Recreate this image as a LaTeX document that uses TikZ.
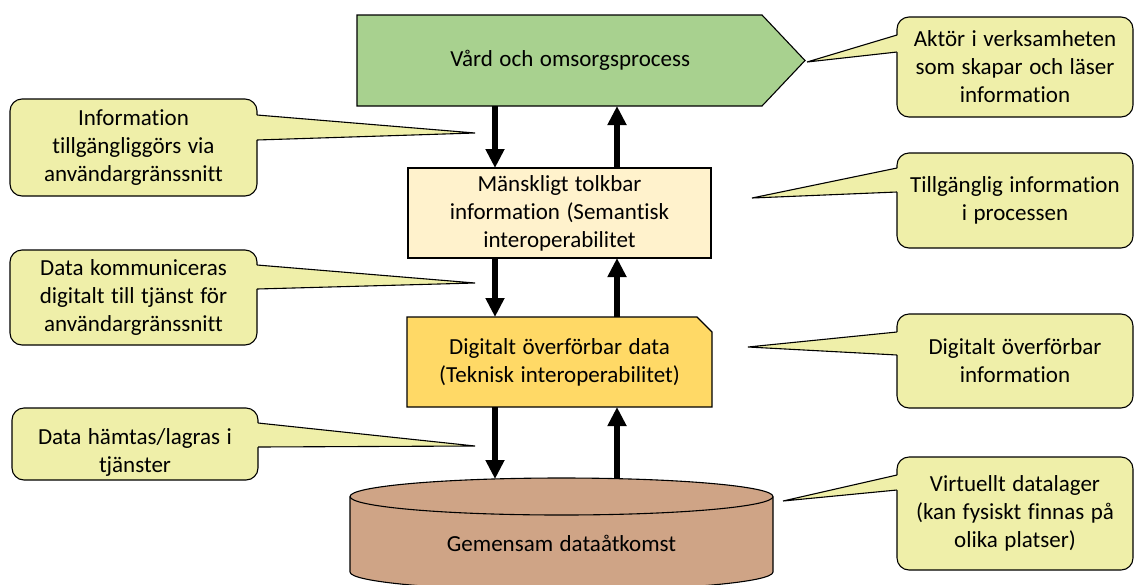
\documentclass[tikz,border=0pt]{standalone}
\usepackage{fontspec}
\setmainfont[WordSpace={1.25},Ligatures={NoCommon}]{Carlito}
\usetikzlibrary{arrows.meta,calc,backgrounds}
\definecolor{callfill}{HTML}{EFEFA9}
\definecolor{procfill}{HTML}{A8D18F}
\definecolor{semfill}{HTML}{FFF2CC}
\definecolor{tekfill}{HTML}{FFD966}
\definecolor{cylfill}{HTML}{CFA486}

% pointer of a speech bubble: corner anchor, inward shift, two offsets down the edge, tip
\newcommand\calloutptr[5]{%
  \fill[callfill] ($(#1)+(#2,#3)$) -- (#5) -- ($(#1)+(#2,#4)$) -- cycle;
  \draw[callline] ($(#1)+(0,#3)$) -- (#5) -- ($(#1)+(0,#4)$);}

\begin{document}
\begin{tikzpicture}[x=1pt,y=-1pt,
  font=\fontsize{23}{28}\selectfont,
  box/.style={draw=black, line width=1.1pt, inner sep=0pt, outer sep=0pt, align=center},
  textonly/.style={inner sep=0pt, outer sep=0pt, align=center},
  callout/.style={box, fill=callfill, rounded corners=12pt},
  callline/.style={draw=black, line width=1.1pt, line join=miter},
  flow/.style={line width=6pt, -{Triangle[width=18pt,length=19pt]}}]

\clip (0,0) rectangle (1134,584);

% arrow columns
\coordinate (dl) at (495,0);
\coordinate (ul) at (617,0);

% process (pentagon)
\node[textonly, minimum width=426.5pt, minimum height=91pt] (P) at (570.25,60.5) {Vård och omsorgsprocess};
\begin{scope}[on background layer]
  \filldraw[fill=procfill, draw=black, line width=1.1pt]
    (P.north west) -- ($(P.north east)+(-21.5,0)$) -- ($(P.east)+(21.5,0)$)
    -- ($(P.south east)+(-21.5,0)$) -- (P.south west) -- cycle;
\end{scope}

% semantic layer
\node[box, fill=semfill, minimum width=303pt, minimum height=90pt] (M) at (559.5,213)
  {Mänskligt tolkbar\\information (Semantisk\\interoperabilitet};

% technical layer (snipped corner)
\node[textonly, minimum width=305pt, minimum height=90pt] (D) at (559.5,362)
  {Digitalt överförbar data\\(Teknisk interoperabilitet)};
\begin{scope}[on background layer]
  \filldraw[fill=tekfill, draw=black, line width=1.1pt]
    (D.north west) -- ($(D.north east)+(-15,0)$) -- ($(D.north east)+(0,15)$)
    -- (D.south east) -- (D.south west) -- cycle;
\end{scope}

% data store (cylinder)
\node[textonly, minimum width=423pt, minimum height=57pt] (G) at (561.5,543.5) {Gemensam dataåtkomst};
\coordinate (ctop) at ($(G.north)+(0,-36)$);
\begin{scope}[on background layer]
  \filldraw[fill=cylfill, draw=black, line width=1.1pt]
    ($(G.north west)+(0,-18.5)$) -- (G.south west)
    arc[start angle=180, end angle=360, x radius=211.5pt, y radius=18.5pt]
    -- ($(G.north east)+(0,-18.5)$)
    arc[start angle=0, end angle=180, x radius=211.5pt, y radius=18.5pt] -- cycle;
  \draw[line width=1.1pt] ($(G.north west)+(0,-18.5)$)
    arc[start angle=180, end angle=360, x radius=211.5pt, y radius=18.5pt];
\end{scope}

% flows between layers
\draw[flow] (P.south -| dl) -- (M.north -| dl);
\draw[flow] (M.north -| ul) -- (P.south -| ul);
\draw[flow] (M.south -| dl) -- (D.north -| dl);
\draw[flow] (D.north -| ul) -- (M.south -| ul);
\draw[flow] (D.south -| dl) -- (ctop -| dl);
\draw[flow] (ctop -| ul) -- (D.south -| ul);

% speech bubbles
\node[callout, minimum width=236pt, minimum height=100pt] (cA) at (1015,67)
  {Aktör i verksamheten\\som skapar och läser\\information};
\coordinate (tA) at (807,62);
\calloutptr{cA.north west}{1.5}{18}{35}{tA}

\node[callout, minimum width=247pt, minimum height=97pt] (cB) at (133.5,147.5)
  {Information\\tillgängliggörs via\\användargränssnitt};
\coordinate (tB) at (475,133);
\calloutptr{cB.north east}{-1.5}{16}{41}{tB}

\node[callout, minimum width=236pt, minimum height=95pt] (cC) at (1015,200.5)
  {Tillgänglig information\\i processen};
\coordinate (tC) at (752,198);
\calloutptr{cC.north west}{1.5}{15}{39}{tC}

\node[callout, minimum width=247pt, minimum height=95pt] (cD) at (133.5,297.5)
  {Data kommuniceras\\digitalt till tjänst för\\användargränssnitt};
\coordinate (tD) at (475,283);
\calloutptr{cD.north east}{-1.5}{15}{39}{tD}

\node[callout, minimum width=236pt, minimum height=94pt] (cE) at (1015,361)
  {Digitalt överförbar\\information};
\coordinate (tE) at (748,347);
\calloutptr{cE.north west}{1.5}{18}{41}{tE}

\node[callout, minimum width=246pt, minimum height=72pt] (cF) at (135,444) {};
\node[textonly] (cFt) at (135,452) {Data hämtas/lagras i\\tjänster};
\coordinate (tF) at (475,446);
\calloutptr{cF.north east}{-1.5}{15}{39}{tF}

\node[callout, minimum width=236pt, minimum height=113pt] (cG) at (1015,513.5)
  {Virtuellt datalager\\(kan fysiskt finnas på\\olika platser)};
\coordinate (tG) at (783,501);
\calloutptr{cG.north west}{1.5}{18}{33}{tG}

\end{tikzpicture}
\end{document}
